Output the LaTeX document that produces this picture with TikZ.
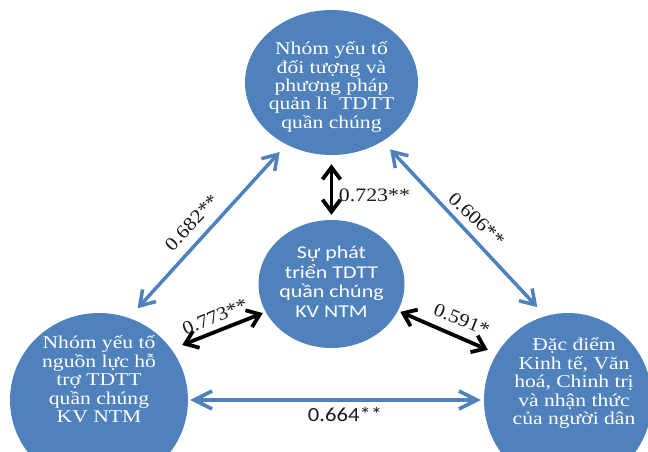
\documentclass[tikz,border=0pt]{standalone}
\usepackage{fontspec}
\setmainfont{Liberation Serif}
\newfontfamily\humanist{Carlito}
\usepackage{graphicx}
\usetikzlibrary{shapes.geometric,arrows.meta}

\definecolor{officeblue}{HTML}{4F81BD}
\definecolor{labelink}{HTML}{1A1A1A}

% horizontally widened, centred block of lines
\newcommand{\wideblock}[2]{\scalebox{#1}[1]{\begin{tabular}{@{}c@{}}#2\end{tabular}}}
\newcommand{\widetext}[2]{\scalebox{#1}[1]{#2}}

\begin{document}
\begin{tikzpicture}[x=1pt,y=-1pt,
  bubble/.style={ellipse, fill=officeblue, draw=none, inner sep=0pt},
  serifbody/.style={text=white, inner sep=0pt, font=\fontsize{18}{18.4}\selectfont},
  sansbody/.style={text=white, inner sep=0pt, font=\humanist\fontsize{18}{19.3}\selectfont},
  corr/.style={text=labelink, inner sep=0pt, font=\fontsize{19}{19}\selectfont},
  corrsans/.style={text=labelink, inner sep=0pt, font=\humanist\fontsize{20}{20}\selectfont},
  bluelink/.style={draw=officeblue, line width=3.5pt,
    {Straight Barb[length=14pt,width=18pt]}-{Straight Barb[length=14pt,width=18pt]}},
  bluelinkwide/.style={draw=officeblue, line width=3.5pt,
    {Straight Barb[length=18pt,width=18pt]}-{Straight Barb[length=18pt,width=18pt]}},
  blacklink/.style={draw=black, line width=3.8pt,
    {Straight Barb[length=12pt,width=18pt]}-{Straight Barb[length=12pt,width=18pt]}}
]
\fill[white] (0,0) rectangle (648,451);
\clip (0,0) rectangle (648,451);

% four factor groups
\node[bubble, minimum width=173pt, minimum height=145pt] (T) at (331.5,82.5) {};
\node[bubble, minimum width=146pt, minimum height=128pt] (C) at (331.5,284) {};
\node[bubble, minimum width=178pt, minimum height=174pt] (L) at (99,400) {};
\node[bubble, minimum width=168pt, minimum height=174pt] (R) at (568,400) {};

\node[serifbody] (Tt) at (331.5,87.8) {\wideblock{1.2}{Nhóm yếu tố\\ đối tượng và\\ phương pháp\\ quản li\hspace{0.25em} TDTT\\ quần chúng}};
\node[sansbody] (Ct) at (331.5,284.1) {\wideblock{1.22}{Sự phát\\ triển TDTT\\ quần chúng\\ KV NTM}};
\node[serifbody] (Lt) at (99,381.8) {\wideblock{1.2}{Nhóm yếu tố\\ nguồn lực hỗ\\ trợ TDTT\\ quần chúng\\ KV NTM}};
\node[serifbody] (Rt) at (574,383.9) {\wideblock{1.2}{Đặc điểm\\ Kinh tế, Văn\\ hoá, Chinh trị\\ và nhận thức\\ của người dân}};

% correlations between the outer groups
\draw[bluelink, shorten <=13pt, shorten >=10pt] (L.70.5) -- (T.234.3);
\draw[bluelink, shorten <=11pt, shorten >=12pt] (T.-49.4) -- (R.105);
\draw[bluelinkwide, shorten <=2pt, shorten >=3pt] (L.0) -- (R.180);

% correlations with the central outcome
\draw[blacklink, shorten <=9pt, shorten >=5pt] (T.270) -- (C.90);
\draw[blacklink, shorten <=11.5pt, shorten >=3pt] (L.35.1) -- (C.203);
\draw[blacklink, shorten <=2.5pt, shorten >=9.5pt] (C.-22.2) -- (R.147);

% coefficients
\node[corr, rotate=47] (k1) at (191.7,222.5) {\widetext{1.12}{0.682**}};
\node[corr, rotate=-43] (k2) at (476.7,219.2) {\widetext{1.12}{0.606**}};
\node[corr] (k3) at (374.5,195) {\widetext{1.15}{0.723**}};
\node[corr, rotate=23] (k4) at (215,316.7) {\widetext{1.12}{0.773**}};
\node[corr, rotate=-22] (k5) at (461.7,320) {\widetext{1.12}{0.591*}};
\node[corrsans] (k6) at (345,414) {\widetext{1.13}{0.664**}};
\end{tikzpicture}
\end{document}
